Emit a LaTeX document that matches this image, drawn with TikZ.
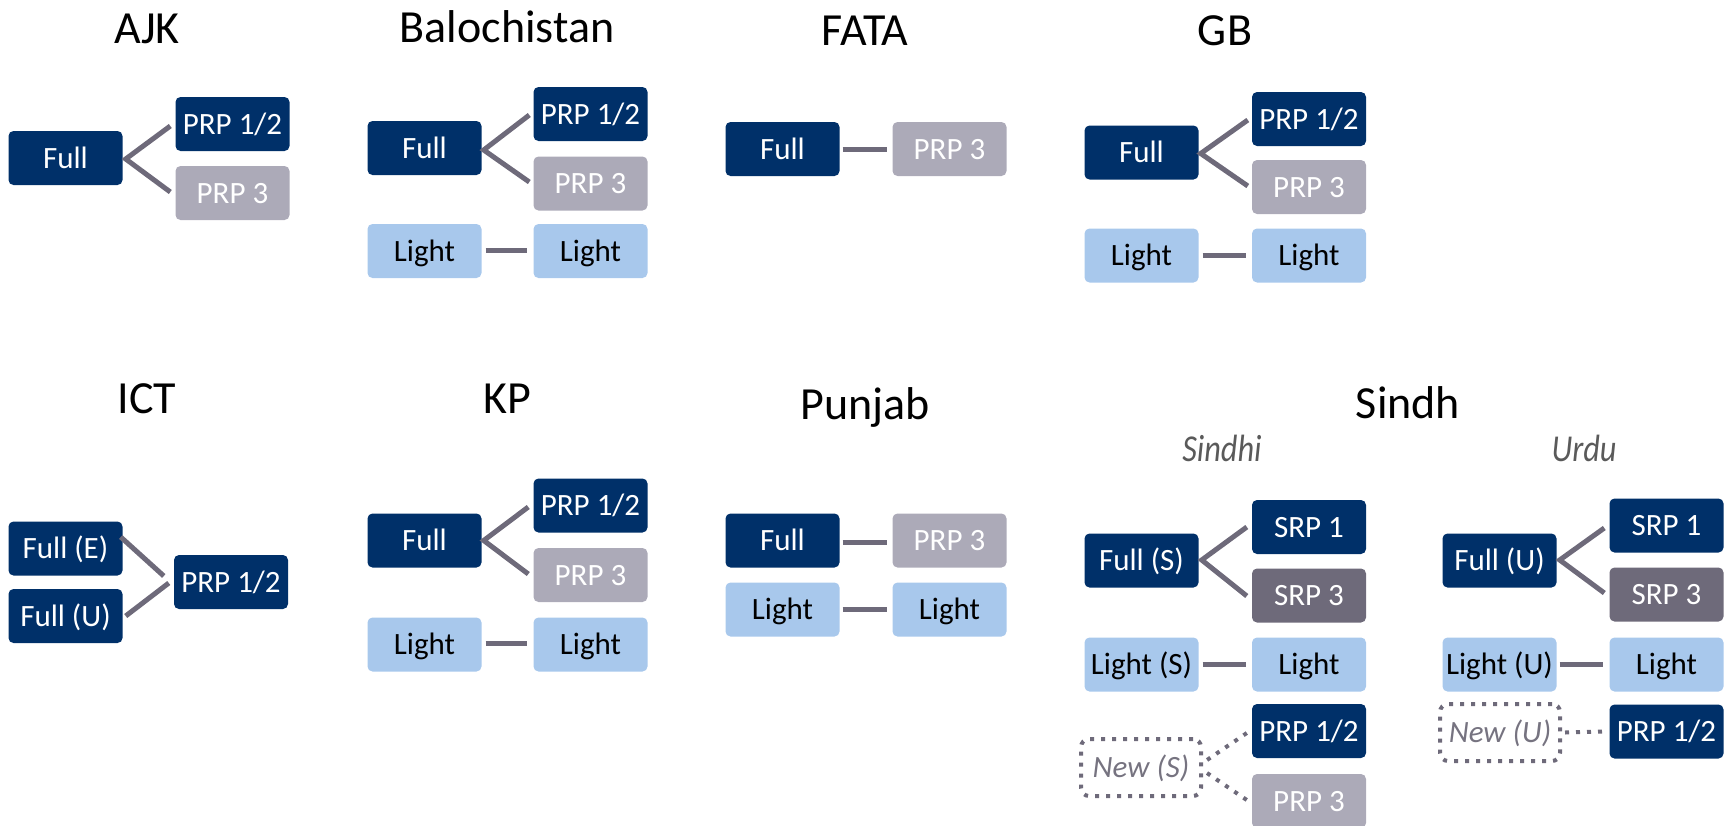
\documentclass[tikz,border=0pt]{standalone}
\usepackage{fontspec}
\setmainfont{Carlito}
\definecolor{navy}{RGB}{0,48,105}
\definecolor{lgray}{RGB}{172,170,184}
\definecolor{dgray}{RGB}{110,106,122}
\definecolor{lblue}{RGB}{168,200,236}
\definecolor{newgray}{RGB}{118,115,128}
\definecolor{labgray}{RGB}{90,90,90}
\begin{document}
\begin{tikzpicture}[x=1pt,y=-1pt,
  box/.style={rounded corners=5pt, minimum width=114pt, minimum height=54pt, inner sep=0pt,
    text height=20pt, text depth=0pt, font=\fontsize{31}{31}\selectfont, anchor=center},
  dk/.style={box, fill=navy, text=white},
  gr/.style={box, fill=lgray, text=white},
  dg/.style={box, fill=dgray, text=white},
  lt/.style={box, fill=lblue, text=black},
  nw/.style={box, draw=dgray, line width=4pt, dash pattern=on 4pt off 7pt, rounded corners=8pt,
    text=newgray, font=\fontsize{31}{31}\selectfont\itshape, minimum width=120pt, minimum height=57pt},
  conn/.style={draw=dgray, line width=5pt, line join=miter},
  dconn/.style={draw=dgray, line width=4pt, dash pattern=on 4pt off 7pt, line join=miter},
  title/.style={font=\fontsize{46}{46}\selectfont, anchor=base, inner sep=0pt},
  sub/.style={font=\fontsize{38}{38}\selectfont\itshape, text=labgray, anchor=base, inner sep=0pt}
]
\useasboundingbox (0,0) rectangle (1732,825);

% ---------- titles ----------
\node[title] (tAJK) at (147,43) {AJK};
\node[title] (tBal) at (507,42) {Balochistan};
\node[title] (tFATA) at (865,45) {FATA};
\node[title] (tGB) at (1225,45) {GB};
\node[title] (tICT) at (147,413) {ICT};
\node[title] (tKP) at (507,413) {KP};
\node[title] (tPun) at (865,419) {Punjab};
\node[title] (tSin) at (1408,418) {Sindh};
\node[sub] (tSindhi) at (1222,461) {\scalebox{0.85}[1]{Sindhi}};
\node[sub] (tUrdu) at (1584,461) {\scalebox{0.85}[1]{Urdu}};

% ---------- AJK ----------
\node[dk] (ajkF) at (65.5,158) {Full};
\node[dk] (ajkA) at (232.5,124) {PRP 1/2};
\node[gr] (ajkB) at (232.5,193) {PRP 3};
\draw[conn] ([shift={(-5,2)}]ajkA.west) -- ([shift={(3,1)}]ajkF.east) -- ([shift={(-5,-1)}]ajkB.west);

% ---------- Balochistan ----------
\node[dk] (bF) at (424.5,148) {Full};
\node[dk] (bA) at (590.5,114) {PRP 1/2};
\node[gr] (bB) at (590.5,183.5) {PRP 3};
\node[lt] (bL) at (424.5,251) {Light};
\node[lt] (bL2) at (590.5,251) {Light};
\draw[conn] ([shift={(-4,1)}]bA.west) -- ([shift={(2,2)}]bF.east) -- ([shift={(-4,-1.5)}]bB.west);
\draw[conn] ([shift={(4,-1)}]bL.east) -- ([shift={(-6,-1)}]bL2.west);

% ---------- FATA ----------
\node[dk] (fF) at (782.5,149) {Full};
\node[gr] (fB) at (949.5,149) {PRP 3};
\draw[conn] ([xshift=3pt]fF.east) -- ([xshift=-5pt]fB.west);

% ---------- GB ----------
\node[dk] (gF) at (1141.5,152.5) {Full};
\node[dk] (gA) at (1309,119) {PRP 1/2};
\node[gr] (gB) at (1309,187) {PRP 3};
\node[lt] (gL) at (1141.5,255.5) {Light};
\node[lt] (gL2) at (1309,255.5) {Light};
\draw[conn] ([shift={(-4,1)}]gA.west) -- ([shift={(2,1)}]gF.east) -- ([shift={(-4,-1)}]gB.west);
\draw[conn] ([xshift=4pt]gL.east) -- ([xshift=-6pt]gL2.west);

% ---------- ICT ----------
\node[dk] (iE) at (65.5,548.5) {Full (E)};
\node[dk] (iU) at (65.5,616) {Full (U)};
\node[dk] (iA) at (231,582) {PRP 1/2};
\draw[conn] ([shift={(-2,-11.5)}]iE.east) -- ([shift={(-10,-6)}]iA.west);
\draw[conn] ([shift={(3,0)}]iU.east) -- ([shift={(-5,1)}]iA.west);

% ---------- KP ----------
\node[dk] (kF) at (424.5,540.5) {Full};
\node[dk] (kA) at (590.5,505.5) {PRP 1/2};
\node[gr] (kB) at (590.5,575) {PRP 3};
\node[lt] (kL) at (424.5,644.5) {Light};
\node[lt] (kL2) at (590.5,644.5) {Light};
\draw[conn] ([shift={(-5,1.5)}]kA.west) -- ([shift={(2,0)}]kF.east) -- ([shift={(-5,-1)}]kB.west);
\draw[conn] ([shift={(4,-1.5)}]kL.east) -- ([shift={(-6,-1.5)}]kL2.west);

% ---------- Punjab ----------
\node[dk] (pF) at (782.5,540.5) {Full};
\node[gr] (pB) at (949.5,540.5) {PRP 3};
\node[lt] (pL) at (782.5,609.5) {Light};
\node[lt] (pL2) at (949.5,609.5) {Light};
\draw[conn] ([shift={(3,1.5)}]pF.east) -- ([shift={(-5,1.5)}]pB.west);
\draw[conn] ([shift={(3,-0.5)}]pL.east) -- ([shift={(-5,-0.5)}]pL2.west);

% ---------- Sindh (Sindhi) ----------
\node[dk] (sF) at (1141.5,560.5) {Full (S)};
\node[dk] (sA) at (1309,527) {SRP 1};
\node[dg] (sB) at (1309,595.5) {SRP 3};
\node[lt] (sL) at (1141.5,664.5) {Light (S)};
\node[lt] (sL2) at (1309,664.5) {Light};
\node[nw] (sN) at (1141,767.5) {New (S)};
\node[dk] (sC) at (1309,731) {PRP 1/2};
\node[gr] (sD) at (1309,801) {PRP 3};
\draw[conn] ([shift={(-5,0)}]sA.west) -- ([shift={(3,-0.5)}]sF.east) -- ([shift={(-5,0.5)}]sB.west);
\draw[conn] ([xshift=4pt]sL.east) -- ([xshift=-6pt]sL2.west);
\draw[dconn] ([shift={(-5,2)}]sC.west) -- ([shift={(4,-7.5)}]sN.east);
\draw[dconn] ([shift={(4,5.5)}]sN.east) -- ([shift={(-5,-1)}]sD.west);

% ---------- Sindh (Urdu) ----------
\node[dk] (uF) at (1499.5,560.5) {Full (U)};
\node[dk] (uA) at (1666.5,525.5) {SRP 1};
\node[dg] (uB) at (1666.5,594.5) {SRP 3};
\node[lt] (uL) at (1499.5,664.5) {Light (U)};
\node[lt] (uL2) at (1666.5,664.5) {Light};
\node[nw] (uN) at (1500,732.5) {New (U)};
\node[dk] (uC) at (1666.5,731.5) {PRP 1/2};
\draw[conn] ([shift={(-5,2.5)}]uA.west) -- ([shift={(3,-0.5)}]uF.east) -- ([shift={(-5,-1.5)}]uB.west);
\draw[conn] ([xshift=3pt]uL.east) -- ([xshift=-6pt]uL2.west);
\draw[dconn] ([xshift=3pt]uN.east) -- ([xshift=-5pt]uC.west);
\end{tikzpicture}
\end{document}
